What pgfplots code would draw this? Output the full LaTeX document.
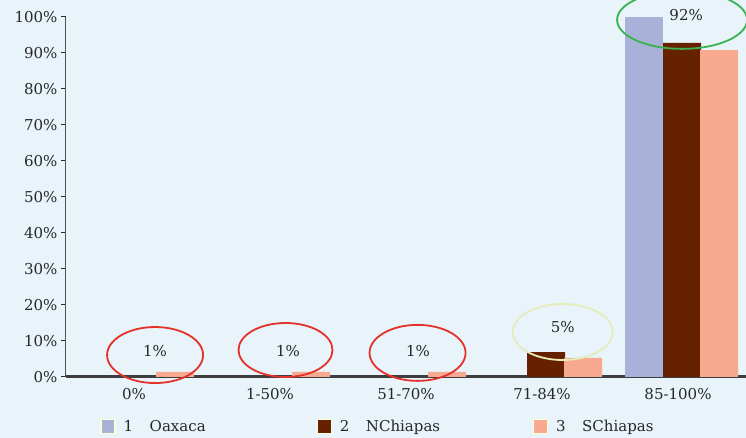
\documentclass[border=0pt]{standalone}
\usepackage{pgfplots}
\pgfplotsset{compat=1.18}
\usepackage{fontspec}
\setmainfont{DejaVu Serif}
\usetikzlibrary{backgrounds}
\definecolor{bgc}{RGB}{232,243,250}
\definecolor{oax}{RGB}{168,178,216}
\definecolor{nch}{RGB}{102,34,0}
\definecolor{sch}{RGB}{248,170,144}
\definecolor{txt}{RGB}{40,40,40}
\definecolor{ringred}{RGB}{228,50,42}
\definecolor{ringyel}{RGB}{230,236,185}
\definecolor{ringgrn}{RGB}{58,178,80}
\begin{document}
\begin{tikzpicture}[font=\fontsize{15}{18}\selectfont]
\begin{axis}[
  scale only axis, width=680pt, height=360pt,
  xmin=-0.5, xmax=4.5, ymin=0, ymax=100,
  ybar=0pt, bar width=38pt,
  axis lines*=left,
  x axis line style={line width=3pt, draw=txt!90},
  y axis line style={line width=1pt, draw=txt!80},
  xtick={0,1,2,3,4},
  xticklabels={0\%,1-50\%,51-70\%,71-84\%,85-100\%},
  major x tick style={draw=none},
  extra x ticks={0.5,1.5,2.5,3.5},
  extra x tick labels={},
  extra x tick style={major tick length=6pt, tick align=outside, tick style={draw=txt, line width=1pt}},
  ytick={0,10,...,100},
  yticklabel={\pgfmathprintnumber{\tick}\%},
  /pgf/number format/assume math mode=true,
  y tick style={draw=txt, line width=1pt},
  major tick length=5pt, tick align=outside,
  ticklabel style={text=txt},
  xticklabel style={yshift=-3pt},
  clip=false,
  legend columns=3,
  legend style={draw=none, fill=none, at={(axis cs:-0.27,-13.8)}, anchor=west,
    /tikz/every odd column/.append style={column sep=6pt},
    /tikz/every even column/.append style={column sep=7pt}},
  legend image code/.code={\draw[#1, draw=white!85!yellow, line width=1.2pt] (0pt,-7pt) rectangle (14pt,7pt);},
]
\addplot[fill=oax, draw=none, bar shift=-34pt] coordinates {(4,100)};
\addlegendentry{\makebox[184pt][l]{\color{txt}1\hspace{1.1em}Oaxaca}}
\addplot[fill=nch, draw=none, bar shift=4pt] coordinates {(3,6.9) (4,92.8)};
\addlegendentry{\makebox[184pt][l]{\color{txt}2\hspace{1.1em}NChiapas}}
\addplot[fill=sch, draw=none, bar shift=41pt] coordinates {(0,1.4) (1,1.4) (2,1.4) (3,5.3) (4,90.8)};
\addlegendentry{\makebox[100pt][l]{\color{txt}3\hspace{1.1em}SChiapas}}
% annotation rings
\draw[ringred, line width=1.8pt] (axis cs:0.155,6.1) ellipse [x radius=48pt, y radius=28pt];
\draw[ringred, line width=1.8pt] (axis cs:1.114,7.5) ellipse [x radius=47pt, y radius=27pt];
\draw[ringred, line width=1.8pt] (axis cs:2.085,6.7) ellipse [x radius=48pt, y radius=28pt];
\draw[ringyel, line width=1.8pt] (axis cs:3.152,12.5) ellipse [x radius=50pt, y radius=28pt];
\draw[ringgrn, line width=1.8pt] (axis cs:4.03,99.2) ellipse [x radius=65pt, y radius=29pt];
\node[text=txt] at (axis cs:0.154,7.3) {1\%};
\node[text=txt] at (axis cs:1.133,7.3) {1\%};
\node[text=txt] at (axis cs:2.089,7.3) {1\%};
\node[text=txt] at (axis cs:3.152,14.0) {5\%};
\node[text=txt] at (axis cs:4.06,100.6) {92\%};
\coordinate (sw) at (rel axis cs:0,0);
\coordinate (ne) at (rel axis cs:1,1);
\end{axis}
\begin{pgfonlayer}{background}
\fill[bgc] ([xshift=-66pt,yshift=-61pt]sw) rectangle ([yshift=17pt]ne);
\end{pgfonlayer}
\pgfresetboundingbox
\useasboundingbox ([xshift=-66pt,yshift=-61pt]sw) rectangle ([yshift=17pt]ne);
\end{tikzpicture}
\end{document}
